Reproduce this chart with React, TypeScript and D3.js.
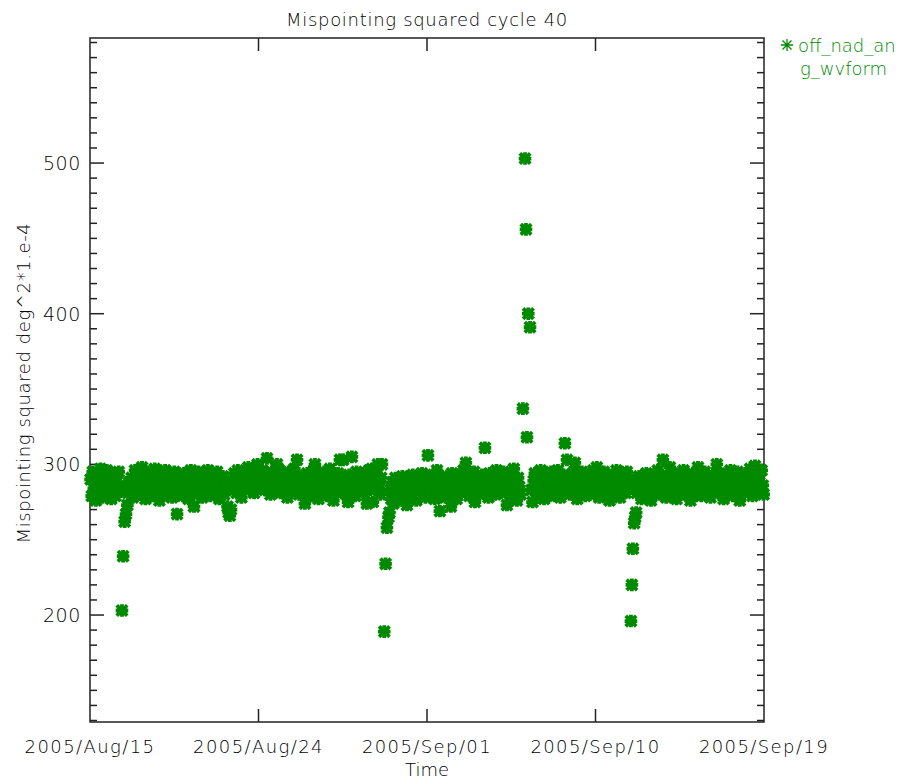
import React from "react";
import * as d3 from "d3";

const TITLE = "Mispointing squared cycle 40";
const X_LABEL = "Time";
const Y_LABEL = "Mispointing squared deg^2*1.e-4";
const LEGEND_LINES = ["off_nad_an", "g_wvform"];

// time axis: cycle start and end (UTC)
const T_START = "2005-08-15T10:00:00Z";
const T_END = "2005-09-19T10:00:00Z";
const X_TICKS = [
  "2005-08-15T10:00:00Z",
  "2005-08-24T04:00:00Z",
  "2005-09-01T22:00:00Z",
  "2005-09-10T16:00:00Z",
  "2005-09-19T10:00:00Z",
];
const Y_DOMAIN = [129, 583];
const Y_MAJOR = [200, 300, 400, 500];

// [days since T_START, value]
const segAug15: [number, number][] = [
  [0.03,290],[0.09,279],[0.14,295],[0.2,284],[0.26,288],[0.31,276],[0.37,293],[0.42,286],[0.48,281],[0.54,297],
  [0.59,289],[0.65,278],[0.7,292],[0.76,285],[0.82,283],[0.87,296],[0.93,280],[0.98,290],[1.04,287],[1.1,277],
  [1.15,294],[1.21,284],[1.26,291],[1.32,279],[1.38,288],[1.43,282],[1.49,295],[1.54,286],[1.6,284],
  [1.66,203],[1.72,239],[1.8,262],[1.87,267],[1.94,273],[1.98,281],[2.04,288],
];
const segAug17: [number, number][] = [
  [2.1,284],[2.16,291],[2.22,278],[2.28,287],[2.34,296],[2.4,282],[2.46,289],[2.52,293],[2.58,280],[2.64,286],
  [2.7,298],[2.76,284],[2.82,290],[2.88,277],[2.94,288],
  [3.0,295],[3.06,283],[3.12,289],[3.18,279],[3.24,292],[3.3,286],[3.36,297],[3.42,281],[3.48,288],[3.54,294],
  [3.6,276],[3.66,285],[3.72,291],[3.78,283],[3.84,289],[3.9,296],[3.96,280],
  [4.02,287],[4.08,293],[4.14,282],[4.2,290],[4.26,278],[4.32,286],[4.38,295],[4.44,284],[4.52,267],[4.58,289],
  [4.64,281],[4.7,292],[4.76,286],[4.82,279],[4.88,294],[4.94,288],
  [5.0,283],[5.06,291],[5.12,277],[5.18,289],[5.24,296],[5.3,284],[5.36,280],[5.4,272],[5.46,292],[5.52,287],
  [5.58,281],[5.64,295],[5.7,285],[5.76,290],[5.82,278],[5.88,288],[5.94,293],
  [6.0,282],[6.06,289],[6.12,296],[6.18,284],[6.24,279],[6.3,291],[6.36,286],[6.42,293],[6.48,281],[6.54,288],
  [6.6,295],[6.66,283],[6.72,277],[6.78,290],[6.84,286],[6.9,292],[6.96,280],
  [7.02,287],[7.08,283],[7.14,272],[7.2,268],[7.26,266],[7.32,270],[7.38,289],[7.44,284],[7.5,294],[7.56,288],
  [7.62,281],[7.68,296],[7.74,285],[7.8,291],[7.86,278],[7.92,287],[7.98,293],
  [8.04,285],[8.1,292],[8.16,288],[8.22,298],[8.28,283],[8.34,290],[8.4,295],[8.46,286],[8.52,281],[8.58,293],
  [8.64,289],[8.7,300],[8.76,284],[8.82,291],[8.88,287],[8.94,296],
];
const segAug24: [number, number][] = [
  [9.02,288],[9.08,283],[9.14,293],[9.19,304],[9.25,286],[9.31,290],[9.37,280],[9.43,295],[9.49,287],[9.55,292],
  [9.61,282],[9.67,289],[9.71,300],[9.77,285],[9.83,296],[9.89,281],[9.95,290],
  [10.01,287],[10.07,293],[10.13,284],[10.19,289],[10.25,278],[10.31,295],[10.37,286],[10.43,282],[10.49,291],
  [10.55,288],[10.61,297],[10.67,284],[10.75,303],[10.8,289],[10.86,280],[10.92,292],[10.98,286],
  [11.04,290],[11.1,283],[11.16,274],[11.22,288],[11.28,294],[11.34,281],[11.4,287],[11.46,292],[11.52,279],
  [11.58,286],[11.64,296],[11.68,300],[11.74,284],[11.8,290],[11.86,277],[11.92,288],[11.98,293],
  [12.04,282],[12.1,289],[12.16,295],[12.22,285],[12.28,279],[12.34,291],[12.4,286],[12.46,297],[12.52,283],
  [12.58,288],[12.64,276],[12.7,292],[12.76,287],[12.82,281],[12.88,294],[12.94,284],[12.98,303],
  [13.04,289],[13.1,283],[13.14,303],[13.2,291],[13.26,286],[13.32,280],[13.4,275],[13.46,293],[13.52,288],
  [13.6,305],[13.66,284],[13.72,290],[13.78,279],[13.84,295],[13.9,287],[13.96,282],
  [14.02,290],[14.08,285],[14.14,294],[14.2,281],[14.26,288],[14.32,292],[14.38,274],[14.44,286],[14.5,296],
  [14.56,283],[14.64,297],[14.69,275],[14.75,289],[14.81,284],[14.87,293],[14.95,300],[15.01,287],[15.07,280],
  [15.12,291],[15.16,300],
  [15.28,189],[15.35,234],[15.42,258],[15.5,265],[15.55,268],
];
const segAug30: [number, number][] = [
  [15.6,283],[15.65,277],[15.7,288],[15.75,274],[15.8,285],[15.86,291],[15.92,280],[15.98,286],[16.04,276],
  [16.1,289],[16.16,282],[16.22,292],[16.28,278],[16.34,287],[16.4,284],[16.46,273],
  [16.52,290],[16.58,281],[16.64,286],[16.7,279],[16.76,293],[16.82,284],[16.88,288],[16.94,276],[17.0,291],
  [17.06,283],[17.12,287],[17.18,280],[17.24,294],[17.3,285],[17.36,289],[17.42,278],[17.48,292],
  [17.55,306],[17.6,284],[17.66,290],[17.72,281],[17.78,287],[17.84,293],[17.9,277],[17.96,286],[18.02,296],
  [18.08,283],[18.14,289],[18.17,269],[18.22,280],[18.28,292],[18.34,285],[18.4,288],[18.46,278],
  [18.52,291],[18.58,284],[18.64,287],[18.7,280],[18.74,272],[18.8,294],[18.86,286],[18.92,282],[18.98,289],
  [19.04,277],[19.1,293],[19.16,285],[19.22,290],[19.28,281],[19.34,288],[19.4,296],[19.46,283],[19.52,301],
  [19.58,287],[19.64,292],[19.7,279],[19.76,286],[19.82,290],[19.88,283],[19.94,295],[19.99,275],[20.05,288],
  [20.11,284],[20.17,291],[20.23,280],[20.29,286],[20.35,293],[20.41,282],[20.47,289],[20.51,311],
  [20.57,285],[20.63,290],[20.69,278],[20.75,294],[20.81,287],[20.87,283],[20.93,291],[20.99,286],[21.05,280],
  [21.11,296],[21.17,284],[21.23,289],[21.29,292],[21.35,281],[21.41,287],[21.47,295],[21.53,283],[21.59,290],
  [21.65,273],[21.71,286],[21.77,292],[21.83,279],[21.89,288],[21.95,284],[22.01,297],[22.07,282],[22.13,289],
  [22.17,276],[22.23,291],[22.29,285],[22.35,280],
  [22.48,337],[22.59,503],[22.64,456],[22.69,318],[22.76,400],[22.85,391],
];
const segSep06: [number, number][] = [
  [22.92,283],[22.98,275],[23.04,289],[23.1,294],[23.16,285],[23.22,280],[23.28,291],[23.34,287],[23.4,296],
  [23.46,282],[23.52,288],[23.58,277],[23.64,293],[23.7,284],[23.76,290],[23.82,286],[23.88,279],[23.94,295],
  [24.0,283],[24.06,289],[24.12,292],[24.18,281],[24.24,287],[24.3,296],[24.36,284],[24.42,278],[24.48,290],
  [24.54,286],[24.6,293],[24.66,314],[24.72,282],[24.77,303],[24.84,288],[24.9,280],[24.96,291],
  [25.02,285],[25.08,294],[25.14,283],[25.18,301],[25.24,289],[25.3,277],[25.36,287],[25.42,292],[25.48,281],
  [25.54,295],[25.6,286],[25.66,290],[25.72,279],[25.78,288],[25.84,284],[25.9,293],[25.96,280],
  [26.02,289],[26.08,286],[26.14,296],[26.2,282],[26.26,290],[26.32,298],[26.38,284],[26.44,278],[26.5,292],
  [26.56,287],[26.62,283],[26.68,295],[26.74,288],[26.8,281],[26.86,291],[26.92,285],[26.98,276],
  [27.04,290],[27.1,284],[27.16,293],[27.22,287],[27.28,280],[27.34,296],[27.4,285],[27.46,289],[27.52,278],
  [27.58,292],[27.64,283],[27.7,288],[27.76,294],[27.82,281],[27.88,295],[27.94,286],[28.0,290],
  [28.09,196],[28.14,220],[28.19,244],[28.26,261],[28.31,265],[28.36,268],[28.4,281],
];
const segSep12: [number, number][] = [
  [28.46,287],[28.52,292],[28.58,283],[28.64,277],[28.71,291],[28.77,286],[28.83,280],[28.89,294],[28.95,288],
  [29.01,284],[29.07,290],[29.13,276],[29.19,287],[29.25,293],[29.31,282],[29.37,289],[29.43,285],[29.49,296],
  [29.55,280],[29.61,291],[29.67,286],[29.75,303],[29.8,283],
  [29.86,289],[29.92,278],[29.98,292],[30.04,285],[30.11,298],[30.16,281],[30.22,288],[30.28,294],[30.34,284],
  [30.4,290],[30.46,277],[30.52,287],[30.58,293],[30.64,282],[30.7,289],[30.76,285],[30.82,296],[30.88,280],[30.94,291],
  [31.0,286],[31.06,283],[31.12,290],[31.18,276],[31.24,288],[31.3,294],[31.36,284],[31.42,289],[31.48,281],
  [31.57,298],[31.62,286],[31.68,292],[31.74,279],[31.8,287],[31.86,284],[31.92,295],[31.98,282],
  [32.04,289],[32.1,285],[32.16,291],[32.22,278],[32.28,287],[32.34,293],[32.4,283],[32.46,290],[32.55,300],
  [32.6,286],[32.66,281],[32.72,294],[32.78,288],[32.84,284],[32.9,277],[32.96,291],
  [33.02,286],[33.08,293],[33.14,282],[33.2,289],[33.26,296],[33.32,285],[33.38,279],[33.44,290],[33.5,287],
  [33.56,283],[33.62,295],[33.68,288],[33.74,276],[33.8,291],[33.86,284],[33.92,289],[33.98,281],
  [34.04,294],[34.1,286],[34.16,290],[34.22,283],[34.28,297],[34.34,285],[34.4,279],[34.46,292],[34.53,299],
  [34.58,287],[34.64,282],[34.7,293],[34.76,288],[34.82,284],[34.88,296],[34.94,286],[34.98,280],
];

const SEGMENTS = [segAug15, segAug17, segAug24, segAug30, segSep06, segSep12];

const W = 911;
const H = 779;
const M = { left: 90, right: 764, top: 38, bottom: 722 };
const GREEN = "#008a00";
const FONT = "DejaVu Sans";
const TEXT_COLOR = "#000";

const DAY = 86400000;

function asterisk(r: number, d: number) {
  return `M${-r},0L${r},0M0,${-r}L0,${r}M${-d},${-d}L${d},${d}M${-d},${d}L${d},${-d}`;
}

export default function App() {
  const t0 = new Date(T_START);
  const x = d3.scaleUtc().domain([t0, new Date(T_END)]).range([M.left, M.right]);
  const y = d3.scaleLinear().domain(Y_DOMAIN).range([M.bottom, M.top]);
  const fmt = d3.utcFormat("%Y/%b/%d");
  const minor = d3.range(130, 581, 10).filter((v) => !Y_MAJOR.includes(v));
  const points = SEGMENTS.flat();
  const marker = asterisk(4.4, 3.9);

  return (
    <svg width={W} height={H} style={{ position: "absolute", left: 0, top: 0, background: "#fff" }}>
      <rect x={0} y={0} width={W} height={H} fill="#fff" />
      <g fontFamily={FONT} fontWeight={200} fill={TEXT_COLOR}>
        <text x={(M.left + M.right) / 2} y={26} fontSize={18} textAnchor="middle" letterSpacing={0.7}>
          {TITLE}
        </text>
        {X_TICKS.map((t) => (
          <text key={t} x={x(new Date(t))} y={753} fontSize={18} textAnchor="middle" letterSpacing={1.4}>
            {fmt(new Date(t))}
          </text>
        ))}
        <text x={(M.left + M.right) / 2} y={776} fontSize={18} textAnchor="middle">
          {X_LABEL}
        </text>
        {Y_MAJOR.map((v) => (
          <text key={v} x={81} y={y(v) + 7} fontSize={19} textAnchor="end" letterSpacing={0.6}>
            {v}
          </text>
        ))}
        <text
          transform={`translate(30, ${(M.top + M.bottom) / 2 + 3}) rotate(-90)`}
          fontSize={18}
          textAnchor="middle"
          letterSpacing={0.6}
        >
          {Y_LABEL}
        </text>
      </g>

      <g stroke="#222" strokeWidth={1.5} fill="none">
        <rect x={M.left} y={M.top} width={M.right - M.left} height={M.bottom - M.top} />
        {X_TICKS.slice(1, -1).map((t) => {
          const xx = x(new Date(t));
          return (
            <g key={t}>
              <line x1={xx} x2={xx} y1={M.bottom} y2={M.bottom - 13} />
              <line x1={xx} x2={xx} y1={M.top} y2={M.top + 13} />
            </g>
          );
        })}
        {Y_MAJOR.map((v) => (
          <g key={v}>
            <line x1={M.left} x2={M.left + 14} y1={y(v)} y2={y(v)} />
            <line x1={M.right} x2={M.right - 14} y1={y(v)} y2={y(v)} />
          </g>
        ))}
        {minor.map((v) => (
          <g key={v}>
            <line x1={M.left} x2={M.left + 7} y1={y(v)} y2={y(v)} />
            <line x1={M.right} x2={M.right - 7} y1={y(v)} y2={y(v)} />
          </g>
        ))}
      </g>

      <g stroke={GREEN} strokeWidth={3.8} strokeLinecap="square" fill="none">
        {points.map(([d, v], i) => (
          <path key={i} d={marker} transform={`translate(${x(new Date(t0.getTime() + d * DAY))},${y(v)})`} />
        ))}
      </g>

      <g fontFamily={FONT} fontWeight={200} fill={GREEN}>
        <path d={asterisk(6, 4.5)} transform="translate(787,45)" stroke={GREEN} strokeWidth={1.3} fill="none" />
        <text x={798} y={52} fontSize={18}>{LEGEND_LINES[0]}</text>
        <text x={800} y={75} fontSize={18}>{LEGEND_LINES[1]}</text>
      </g>
    </svg>
  );
}
